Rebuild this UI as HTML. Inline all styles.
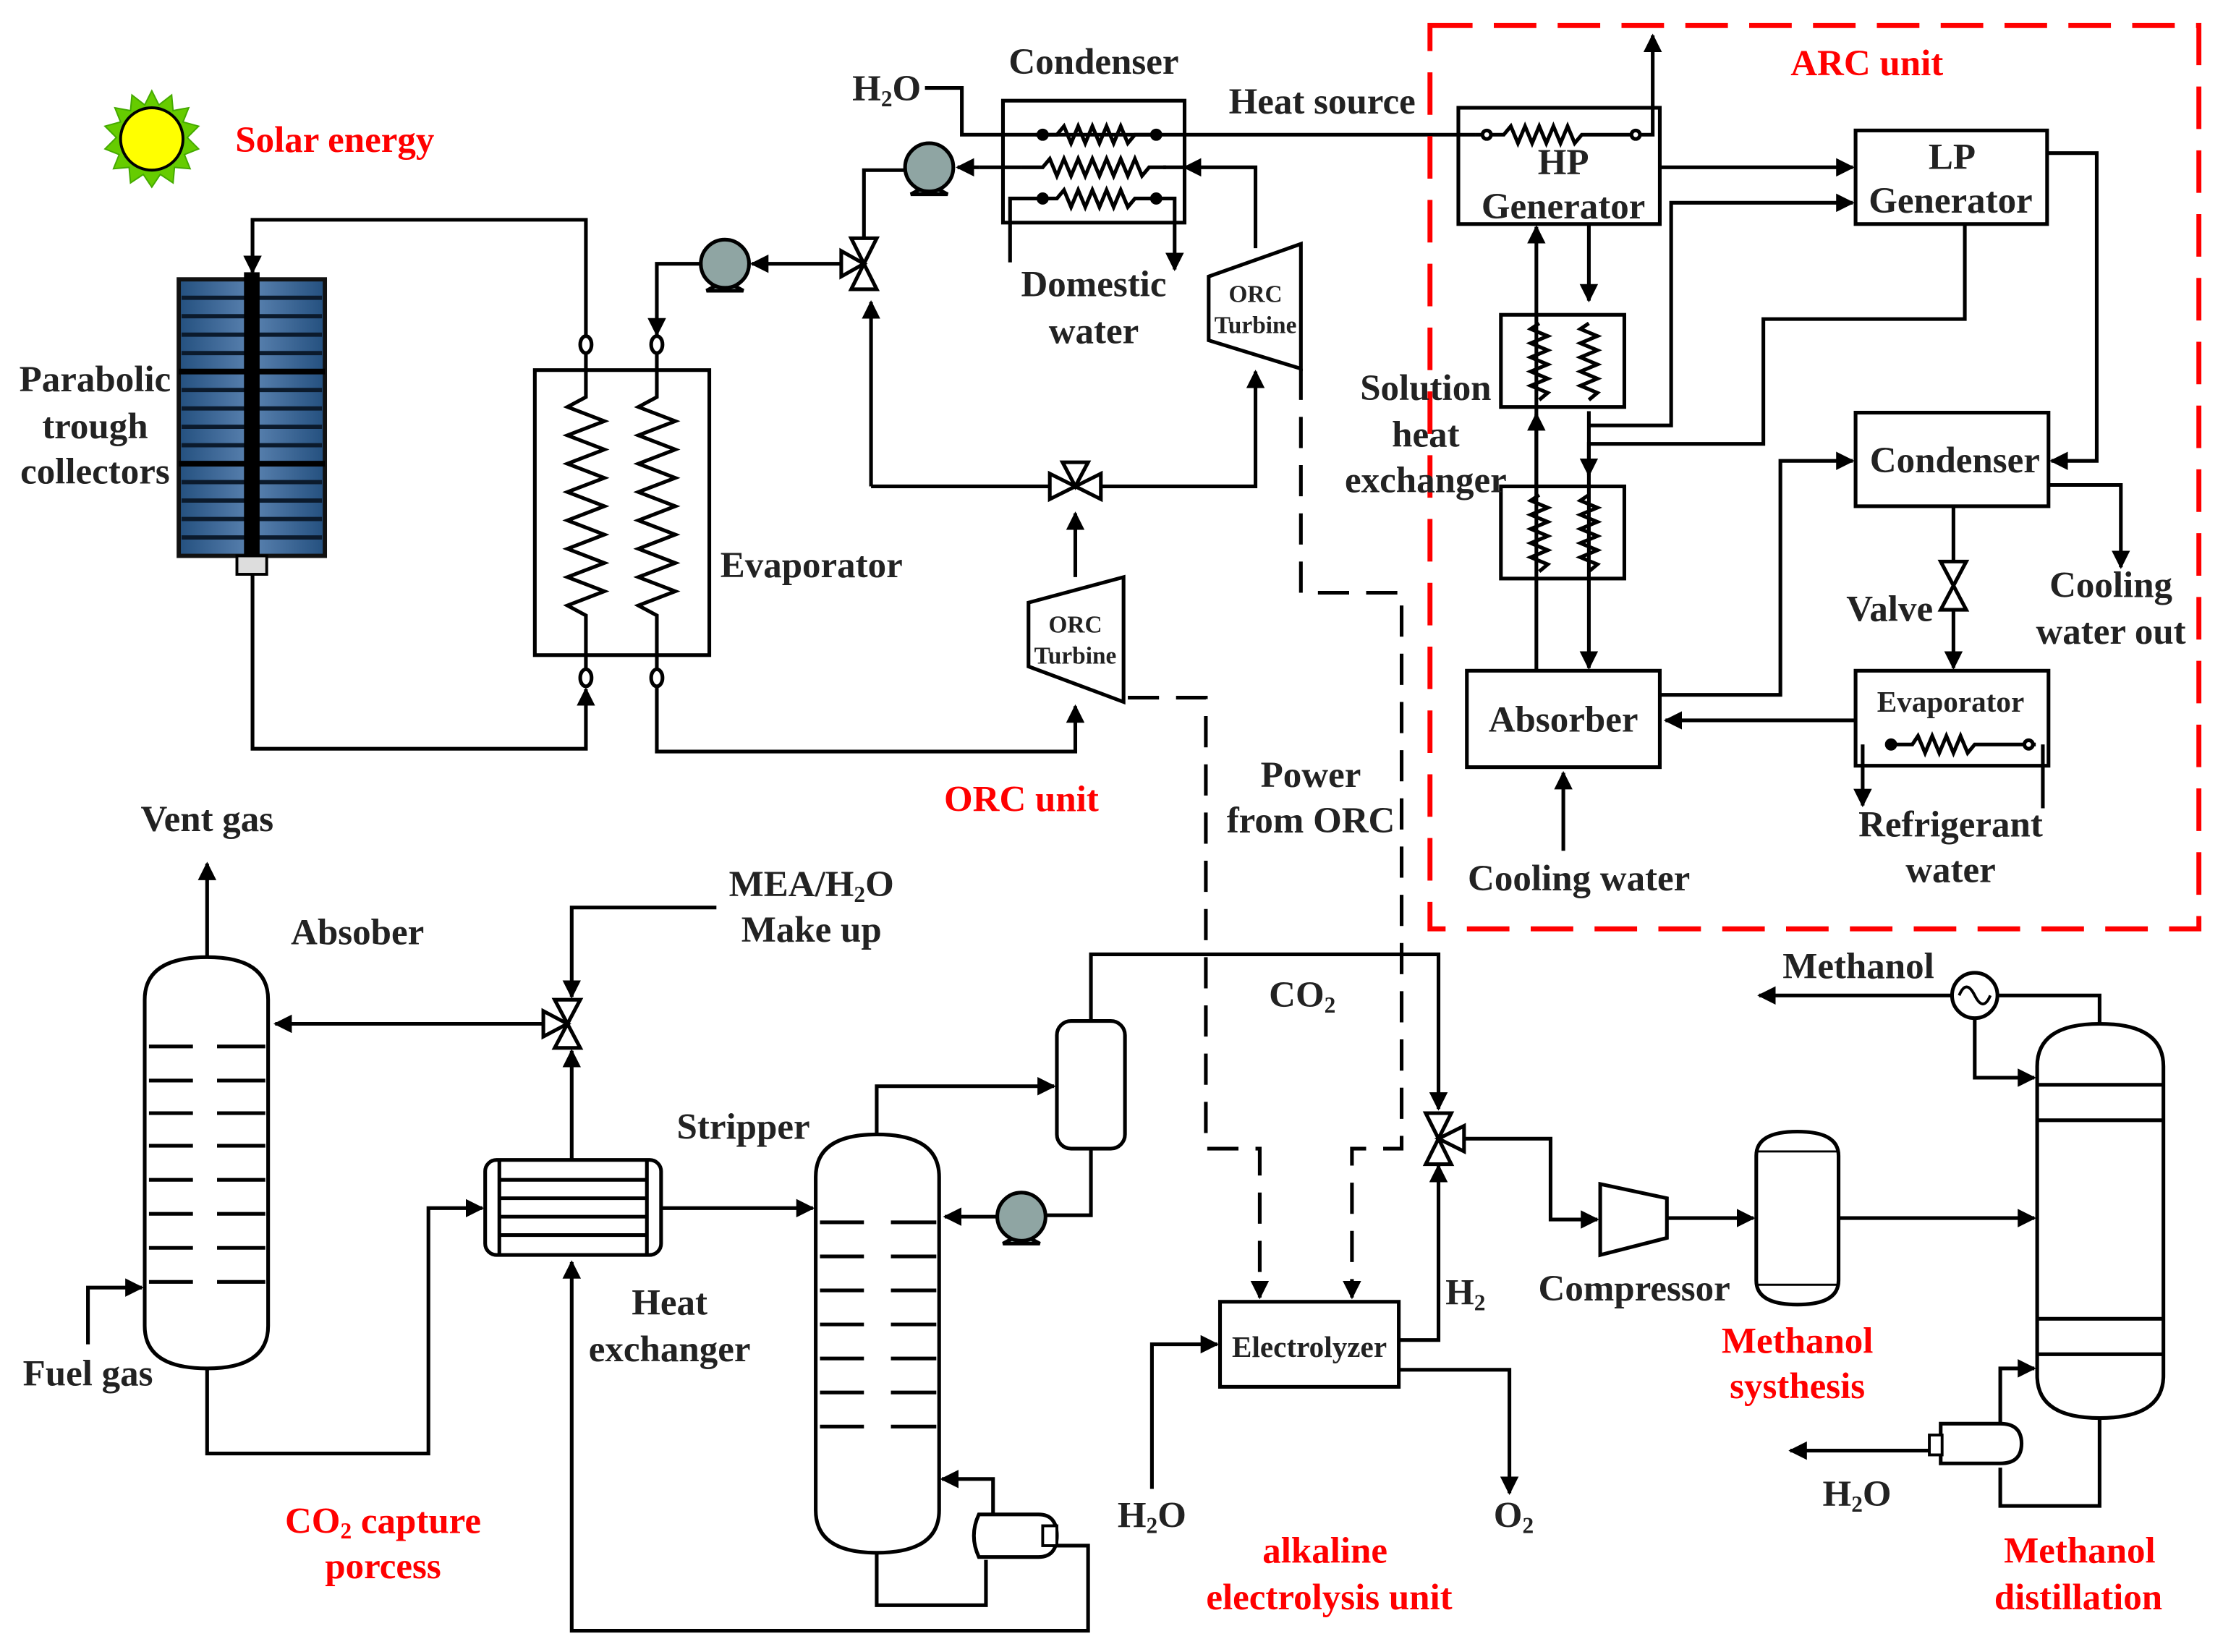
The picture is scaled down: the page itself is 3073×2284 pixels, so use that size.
<!DOCTYPE html>
<html><head><meta charset="utf-8"><style>
html,body{margin:0;padding:0;background:#fff}
svg{display:block}
text{font-family:"Liberation Serif",serif;font-weight:bold;fill:#222;font-size:26px;text-anchor:middle}
.r{fill:#f00}
.s{font-size:17px}
.m{font-size:21px}
</style></head><body>
<svg width="3073" height="2284" viewBox="0 0 1567 1165" preserveAspectRatio="none" xmlns="http://www.w3.org/2000/svg">
<defs>
<marker id="a" viewBox="0 0 10 10" refX="9" refY="5" markerWidth="5" markerHeight="5" orient="auto" markerUnits="strokeWidth"><path d="M0,0L10,5L0,10z" fill="#000"/></marker>
<linearGradient id="bl" x1="0" x2="1"><stop offset="0" stop-color="#24507f"/><stop offset=".5" stop-color="#5a82b0"/><stop offset="1" stop-color="#24507f"/></linearGradient>
</defs>
<g fill="none" stroke="#000" stroke-width="2.6">

<polygon fill="#66cc00" stroke="#44aa00" stroke-width="1" points="107,64 112,74 121,67 122,78 133,76 129,86 140,89 132,97 140,105 130,109 134,119 123,118 122,129 113,123 107,132 101,123 92,129 91,118 80,119 84,109 74,105 82,97 74,89 85,86 81,76 92,78 93,67 102,74"/>
<circle cx="107" cy="98" r="22" fill="#ff0" stroke="#000" stroke-width="2"/>

<rect x="126" y="197" width="103" height="195" fill="url(#bl)" stroke="#111" stroke-width="3"/>
<g stroke="#0b1a2c" stroke-width="3">
<path d="M128,210H227M128,223H227M128,236H227M128,249H227M128,262H227M128,275H227M128,288H227M128,301H227M128,314H227M128,327H227M128,340H227M128,353H227M128,366H227M128,379H227"/>
</g>
<path d="M126,262H229M126,327H229" stroke="#000" stroke-width="4"/>
<rect x="172" y="192" width="11" height="200" fill="#000" stroke="none"/>
<rect x="167" y="392" width="21" height="13" fill="#ddd" stroke="#000" stroke-width="2"/>

<path d="M413,240V155H178V192" marker-end="url(#a)"/>
<path d="M178,405V528H413V486" marker-end="url(#a)"/>

<rect x="377" y="261" width="123" height="201"/>
<polyline points="413,248 413,280 400,287 426,297 400,307 426,317 400,327 426,337 400,347 426,357 400,367 426,377 400,387 426,397 400,407 426,417 400,427 413,434 413,473"/>
<polyline points="463,248 463,280 450,287 476,297 450,307 476,317 450,327 476,337 450,347 476,357 450,367 476,377 450,387 476,397 450,407 476,417 450,427 463,434 463,473"/>
<ellipse cx="413" cy="243" rx="4" ry="6" fill="#fff"/><ellipse cx="463" cy="243" rx="4" ry="6" fill="#fff"/>
<ellipse cx="413" cy="478" rx="4" ry="6" fill="#fff"/><ellipse cx="463" cy="478" rx="4" ry="6" fill="#fff"/>
<path d="M463,484V530H758V498" marker-end="url(#a)"/>
<path d="M494,186H463V236" marker-end="url(#a)"/>

<path d="M498,205L511,198L524,205Z" fill="#8fa5a3"/>
<circle cx="511" cy="186" r="17" fill="#8fa5a3"/>
<path d="M597,186H530" marker-end="url(#a)"/>
<polygon points="600,168 618,168 609,186" fill="#fff"/><polygon points="600,204 618,204 609,186" fill="#fff"/><polygon points="593,177 593,195 609,186" fill="#fff"/>
<path d="M609,168V120H638"/>
<path d="M614,343V213" marker-end="url(#a)"/>
<path d="M614,343H740"/>
<path d="M642,137L655,130L668,137Z" fill="#8fa5a3"/>
<circle cx="655" cy="118" r="17" fill="#8fa5a3"/>

<rect x="707" y="71" width="128" height="86"/>
<path d="M652,62H678V95H1040"/>
<polyline fill="none" points="730,95 745,95 750,89 755,101 760,89 765,101 770,89 775,101 780,89 785,101 790,89 795,101 800,95 815,95"/>
<path d="M885,175V118H835" marker-end="url(#a)"/>
<path d="M845,118H820 M720,118H690" />
<path d="M690,118H675" marker-end="url(#a)"/>
<polyline points="720,118 735,118 740,112 745,124 750,112 755,124 760,112 765,124 770,112 775,124 780,112 785,124 790,112 795,124 800,112 805,124 810,118 822,118"/>
<path d="M712,185V140H732"/>
<polyline points="732,140 745,140 750,134 755,146 760,134 765,146 770,134 775,146 780,134 785,146 790,134 795,146 800,140 828,140 828,190" marker-end="url(#a)"/>
<circle cx="735" cy="95" r="3" fill="#000"/><circle cx="815" cy="95" r="3" fill="#000"/>
<circle cx="735" cy="140" r="3" fill="#000"/><circle cx="815" cy="140" r="3" fill="#000"/>

<polygon points="852,195 917,172 917,260 852,240" fill="#fff"/>
<polygon points="740,334 740,352 758,343" fill="#fff"/><polygon points="776,334 776,352 758,343" fill="#fff"/><polygon points="749,326 767,326 758,343" fill="#fff"/>
<path d="M776,343H885V262" marker-end="url(#a)"/>
<polygon points="725,425 792,407 792,495 725,470" fill="#fff"/>
<path d="M758,407V362" marker-end="url(#a)"/>

<g stroke-dasharray="22,12">
<path d="M917,260V418H988V810H953V915" marker-end="url(#a)"/>
<path d="M795,492H850V810H888V915" marker-end="url(#a)"/>
</g>

<rect x="1008" y="18" width="542" height="637" stroke="#f00" stroke-width="3.5" stroke-dasharray="30,15"/>
<rect x="1028" y="76" width="142" height="82"/>
<polyline points="1040,95 1060,95 1065,89 1070,101 1075,89 1080,101 1085,89 1090,101 1095,89 1100,101 1105,89 1110,101 1115,95 1165,95 1165,25" marker-end="url(#a)"/>
<circle cx="1048" cy="95" r="3" fill="#fff"/><circle cx="1153" cy="95" r="3" fill="#fff"/>
<rect x="1308" y="92" width="135" height="66"/>
<path d="M1170,118H1306" marker-end="url(#a)"/>
<path d="M1120,300H1178V143H1306" marker-end="url(#a)"/>
<path d="M1443,108H1478V325H1446" marker-end="url(#a)"/>
<path d="M1385,158V225H1243V313H1120V335" marker-end="url(#a)"/>
<rect x="1058" y="222" width="87" height="65"/>
<rect x="1058" y="343" width="87" height="65"/>
<polyline points="1085,228 1079,232 1091,237 1079,242 1091,247 1079,252 1091,257 1079,262 1091,267 1079,272 1091,277 1085,282"/>
<polyline points="1120,228 1114,232 1126,237 1114,242 1126,247 1114,252 1126,257 1114,262 1126,267 1114,272 1126,277 1120,282"/>
<polyline points="1085,349 1079,353 1091,358 1079,363 1091,368 1079,373 1091,378 1079,383 1091,388 1079,393 1091,398 1085,403"/>
<polyline points="1120,349 1114,353 1126,358 1114,363 1126,368 1114,373 1126,378 1114,383 1126,388 1114,393 1126,398 1120,403"/>
<path d="M1083,473V160" marker-end="url(#a)"/>
<path d="M1083,350V292" marker-end="url(#a)"/>
<path d="M1120,158V212" marker-end="url(#a)"/>
<path d="M1120,290V471" marker-end="url(#a)"/>
<rect x="1308" y="291" width="136" height="66"/>
<path d="M1444,342H1495V400" marker-end="url(#a)"/>
<path d="M1170,490H1255V325H1306" marker-end="url(#a)"/>
<path d="M1377,357V471" marker-end="url(#a)"/>
<polygon points="1368,396 1386,396 1377,413" fill="#fff"/><polygon points="1368,430 1386,430 1377,413" fill="#fff"/>
<rect x="1308" y="473" width="136" height="67"/>
<polyline points="1333,525 1348,525 1352,519 1357,531 1362,519 1367,531 1372,519 1377,531 1382,519 1387,531 1392,525 1435,525"/>
<circle cx="1333" cy="525" r="3" fill="#000"/><circle cx="1430" cy="525" r="3" fill="#fff"/>
<path d="M1313,525V568" marker-end="url(#a)"/>
<path d="M1440,525V570"/>
<path d="M1308,508H1174" marker-end="url(#a)"/>
<rect x="1034" y="473" width="136" height="68"/>
<path d="M1102,600V545" marker-end="url(#a)"/>

<path d="M146,675V609" marker-end="url(#a)"/>
<path d="M102,705Q102,675 146,675Q189,675 189,705V935Q189,965 146,965Q102,965 102,935Z"/>
<path d="M105,738H136M153,738H187M105,762H136M153,762H187M105,785H136M153,785H187M105,808H136M153,808H187M105,832H136M153,832H187M105,856H136M153,856H187M105,880H136M153,880H187M105,904H136M153,904H187"/>
<path d="M62,948V908H100" marker-end="url(#a)"/>
<path d="M146,965V1025H302V852H340" marker-end="url(#a)"/>
<rect x="342" y="818" width="124" height="67" rx="8"/>
<path d="M352,818V885M456,818V885M352,832H456M352,845H456M352,858H456M352,871H456"/>
<polygon points="391,705 409,705 400,722" fill="#fff"/><polygon points="391,739 409,739 400,722" fill="#fff"/><polygon points="383,713 383,731 400,722" fill="#fff"/>
<path d="M505,640H403V703" marker-end="url(#a)"/>
<path d="M383,722H194" marker-end="url(#a)"/>
<path d="M403,818V741" marker-end="url(#a)"/>
<path d="M466,852H573" marker-end="url(#a)"/>

<path d="M575,830Q575,800 618,800Q662,800 662,830V1065Q662,1095 618,1095Q575,1095 575,1065Z"/>
<path d="M578,862H609M628,862H660M578,886H609M628,886H660M578,910H609M628,910H660M578,934H609M628,934H660M578,958H609M628,958H660M578,982H609M628,982H660M578,1006H609M628,1006H660"/>
<path d="M618,800V766H743" marker-end="url(#a)"/>
<rect x="745" y="720" width="48" height="90" rx="10"/>
<path d="M769,720V673H1014V782" marker-end="url(#a)"/>
<path d="M769,810V857H738"/>
<path d="M707,877L720,870L733,877Z" fill="#8fa5a3"/>
<circle cx="720" cy="858" r="17" fill="#8fa5a3"/>
<path d="M702,858H666" marker-end="url(#a)"/>
<path d="M618,1095V1132H695V1100"/>
<path d="M690,1068H732Q745,1068 745,1083Q745,1098 732,1098H690Q683,1083 690,1068Z" fill="#fff"/>
<rect x="735" y="1076" width="10" height="14" fill="#fff" stroke-width="2"/>
<path d="M700,1068V1043H664" marker-end="url(#a)"/>
<path d="M745,1090H767V1150H403V890" marker-end="url(#a)"/>

<polygon points="1005,785 1023,785 1014,803" fill="#fff"/><polygon points="1005,821 1023,821 1014,803" fill="#fff"/><polygon points="1032,794 1032,812 1014,803" fill="#fff"/>
<path d="M1032,803H1093V860H1126" marker-end="url(#a)"/>
<polygon points="1128,835 1175,845 1175,873 1128,885" fill="#fff"/>
<path d="M1175,859H1236" marker-end="url(#a)"/>
<path d="M986,945H1014V822" marker-end="url(#a)"/>
<rect x="860" y="918" width="126" height="60"/>
<path d="M812,1050V948H858" marker-end="url(#a)"/>
<path d="M986,966H1064V1053" marker-end="url(#a)"/>

<path d="M1238,815Q1238,798 1267,798Q1296,798 1296,815V903Q1296,920 1267,920Q1238,920 1238,903Z"/>
<path d="M1238,812H1296M1238,906H1296" stroke-width="1.5"/>
<path d="M1296,859H1434" marker-end="url(#a)"/>
<path d="M1436,752Q1436,722 1480,722Q1525,722 1525,752V970Q1525,1000 1480,1000Q1436,1000 1436,970Z"/>
<path d="M1436,765H1525M1436,790H1525M1436,930H1525M1436,955H1525"/>
<path d="M1480,722V702H1408"/>
<circle cx="1392" cy="702" r="16" fill="#fff"/>
<path d="M1381,702Q1386,690 1392,702T1403,702" stroke-width="2"/>
<path d="M1376,702H1240" marker-end="url(#a)"/>
<path d="M1392,718V760H1434" marker-end="url(#a)"/>
<path d="M1480,1000V1062H1410V1035"/>
<path d="M1368,1004H1410Q1425,1004 1425,1018Q1425,1032 1410,1032H1368Z" fill="#fff"/>
<rect x="1360" y="1012" width="9" height="14" fill="#fff" stroke-width="2"/>
<path d="M1410,1004V965H1434" marker-end="url(#a)"/>
<path d="M1360,1023H1262" marker-end="url(#a)"/>
</g>

<text x="236" y="107" class="r">Solar energy</text>
<text x="67" y="276">Parabolic</text>
<text x="67" y="309">trough</text>
<text x="67" y="341">collectors</text>
<text x="572" y="407">Evaporator</text>
<text x="625" y="71">H<tspan font-size="16" dy="4">2</tspan><tspan dy="-4">O</tspan></text>
<text x="771" y="52">Condenser</text>
<text x="932" y="80">Heat source</text>
<text x="771" y="209">Domestic</text>
<text x="771" y="242">water</text>
<text x="885" y="213" class="s">ORC</text>
<text x="885" y="235" class="s">Turbine</text>
<text x="758" y="446" class="s">ORC</text>
<text x="758" y="468" class="s">Turbine</text>
<text x="720" y="572" class="r">ORC unit</text>
<text x="924" y="555">Power</text>
<text x="924" y="587">from ORC</text>
<text x="1316" y="53" class="r">ARC unit</text>
<text x="1102" y="123">HP</text>
<text x="1102" y="154">Generator</text>
<text x="1376" y="119">LP</text>
<text x="1375" y="150">Generator</text>
<text x="1005" y="282">Solution</text>
<text x="1005" y="315">heat</text>
<text x="1005" y="347">exchanger</text>
<text x="1378" y="333">Condenser</text>
<text x="1488" y="421">Cooling</text>
<text x="1488" y="454">water out</text>
<text x="1332" y="438">Valve</text>
<text x="1375" y="502" class="m">Evaporator</text>
<text x="1102" y="516">Absorber</text>
<text x="1375" y="590">Refrigerant</text>
<text x="1375" y="622">water</text>
<text x="1113" y="628">Cooling water</text>
<text x="146" y="586">Vent gas</text>
<text x="252" y="666">Absober</text>
<text x="572" y="632">MEA/H<tspan font-size="16" dy="4">2</tspan><tspan dy="-4">O</tspan></text>
<text x="572" y="664">Make up</text>
<text x="62" y="977">Fuel gas</text>
<text x="524" y="803">Stripper</text>
<text x="472" y="927">Heat</text>
<text x="472" y="960">exchanger</text>
<text x="270" y="1081" class="r">CO<tspan font-size="16" dy="4">2</tspan><tspan dy="-4"> capture</tspan></text>
<text x="270" y="1113" class="r">porcess</text>
<text x="918" y="710">CO<tspan font-size="16" dy="4">2</tspan></text>
<text x="1033" y="920">H<tspan font-size="16" dy="4">2</tspan></text>
<text x="923" y="957" class="m">Electrolyzer</text>
<text x="812" y="1077">H<tspan font-size="16" dy="4">2</tspan><tspan dy="-4">O</tspan></text>
<text x="1067" y="1077">O<tspan font-size="16" dy="4">2</tspan></text>
<text x="934" y="1102" class="r">alkaline</text>
<text x="937" y="1135" class="r">electrolysis unit</text>
<text x="1152" y="917">Compressor</text>
<text x="1267" y="954" class="r">Methanol</text>
<text x="1267" y="986" class="r">systhesis</text>
<text x="1310" y="690">Methanol</text>
<text x="1309" y="1062">H<tspan font-size="16" dy="4">2</tspan><tspan dy="-4">O</tspan></text>
<text x="1466" y="1102" class="r">Methanol</text>
<text x="1465" y="1135" class="r">distillation</text>
</svg>
</body></html>
